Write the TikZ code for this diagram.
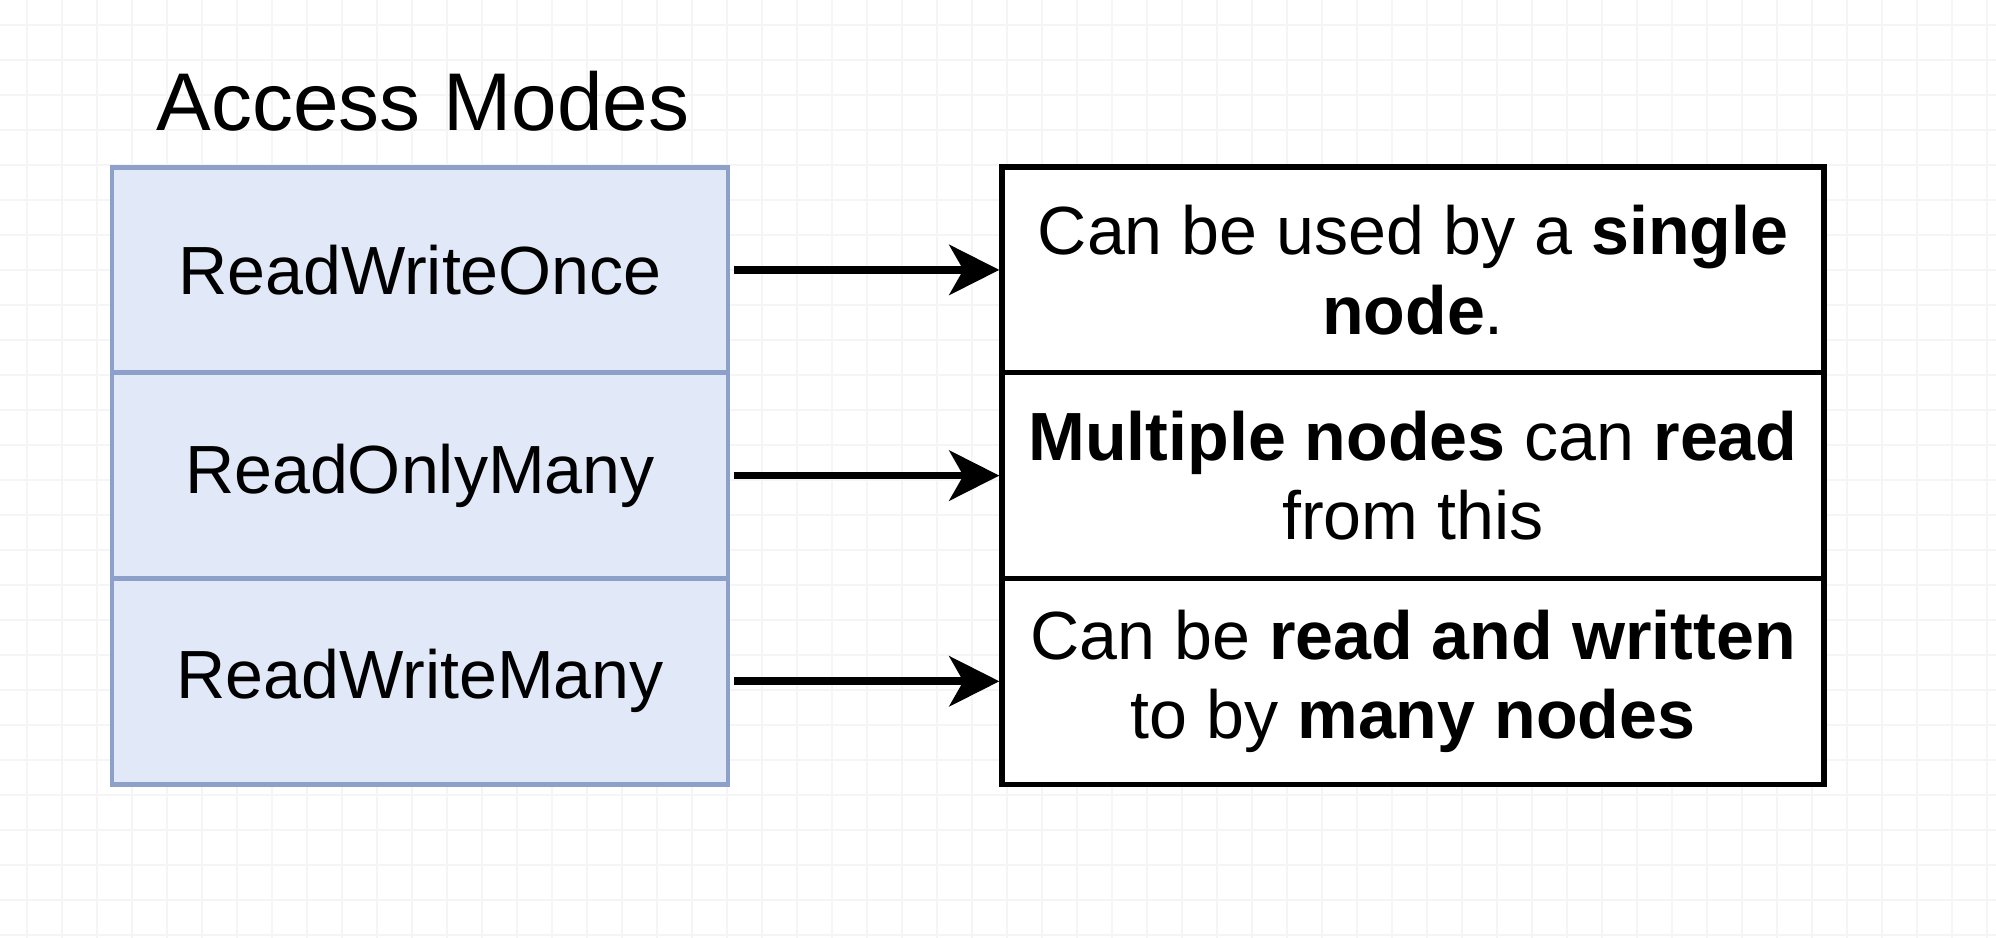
\documentclass[tikz,border=0pt]{standalone}
\usepackage{fontspec}
\setmainfont{Liberation Sans}
\usetikzlibrary{arrows.meta,positioning}

\definecolor{ModeFill}{RGB}{225,233,249}
\definecolor{ModeLine}{RGB}{140,160,202}
\definecolor{GridColor}{RGB}{245,245,245}
\tikzstyle{base}=[rectangle,
                    minimum height=2.057cm,
                    inner sep=0pt,
                    align=center,
                    text centered,
                    font=\fontsize{19.4}{22.7}\selectfont]
\tikzstyle{mode}=[base, draw=ModeLine, fill=ModeFill, line width=1.4pt, minimum width=6.16cm]
\tikzstyle{meaning}=[base, draw=black, fill=white, line width=1.5pt, minimum width=8.22cm]
\tikzstyle{link}=[line width=2.2pt, -{Stealth[length=0.5cm, width=0.5cm, inset=0.14cm]}]

\begin{document}
\begin{tikzpicture}
    \useasboundingbox (0,0) rectangle (19.96,-9.38);
    \fill[white] (0,0) rectangle (19.96,-9.38);
    \begin{scope}
        \clip (0,0) rectangle (19.96,-9.38);
        \draw[GridColor, line width=0.5pt, shift={(0.267,-0.25)}, step=0.35cm] (-1,-10) grid (20,1);
    \end{scope}

    \node at (4.23, -1.31) (title)     [anchor=base, font=\fontsize{23.3}{27}\selectfont] {Access Modes};

    \node at (4.20, -2.699) (rwo)      [mode]    {ReadWriteOnce};
    \node at (4.20, -4.756) (rom)      [mode]    {ReadOnlyMany};
    \node at (4.20, -6.813) (rwm)      [mode]    {ReadWriteMany};

    \node at (14.13, -2.699) (rwo_txt) [meaning] {Can be used by a \textbf{single}\\\textbf{node}.};
    \node at (14.13, -4.756) (rom_txt) [meaning] {\textbf{Multiple nodes} can \textbf{read}\\from this};
    \node at (14.13, -6.813) (rwm_txt) [meaning] {Can be \textbf{read and written}\\to by \textbf{many nodes}};

    \draw[link] ([xshift=1pt]rwo.east) -- (rwo_txt);
    \draw[link] ([xshift=1pt]rom.east) -- (rom_txt);
    \draw[link] ([xshift=1pt]rwm.east) -- (rwm_txt);
\end{tikzpicture}
\end{document}
